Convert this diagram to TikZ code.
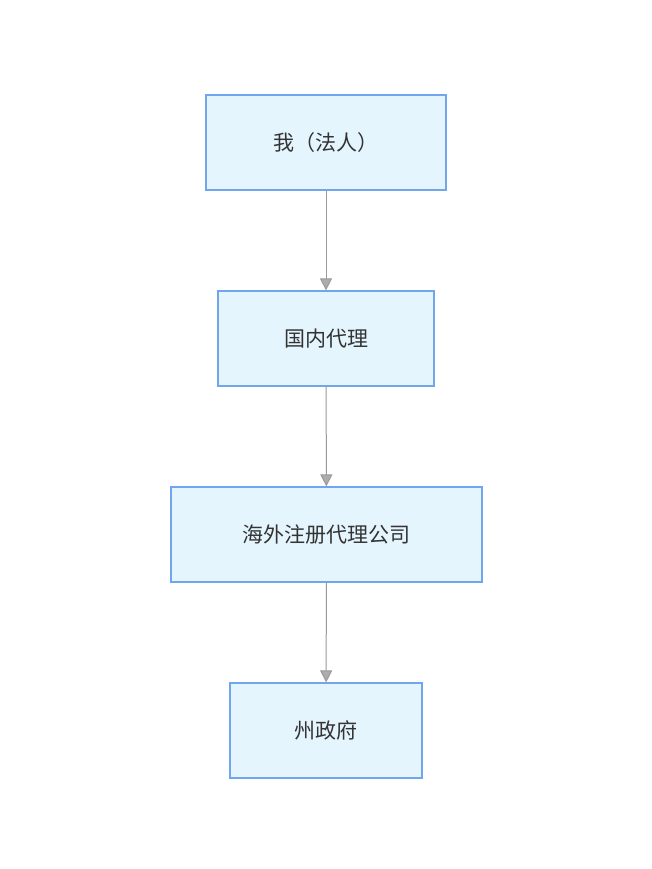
\documentclass[tikz,border=0pt]{standalone}
\usepackage{fontspec}
\newfontfamily\cjk{Noto Sans CJK SC}
\usetikzlibrary{arrows.meta}
\definecolor{boxfill}{HTML}{E5F5FD}
\definecolor{boxline}{HTML}{6FA6EE}
\definecolor{arr}{HTML}{999999}
\definecolor{txt}{HTML}{333333}
\tikzset{
  box/.style={draw=boxline, fill=boxfill, line width=1.2pt, text=txt, font=\cjk\fontsize{21}{24}\selectfont, inner sep=0pt},
  conn/.style={draw=arr, line width=1pt, -{Triangle[length=12pt,width=12pt,fill=arr!80]}}
}
\begin{document}
\begin{tikzpicture}[x=1pt,y=-1pt]
\useasboundingbox (0,0) rectangle (652,869);
\node[box, minimum width=240pt, minimum height=95pt] (a) at (326,142.5) {我（法人）};
\node[box, minimum width=216pt, minimum height=95pt] (b) at (326,338.5) {国内代理};
\node[box, minimum width=311pt, minimum height=95pt] (c) at (326.5,534.5) {海外注册代理公司};
\node[box, minimum width=192pt, minimum height=95pt] (d) at (326,730.5) {州政府};
\draw[conn] (a) -- (b);
\draw[conn] (b) -- (c);
\draw[conn] (c) -- (d);
\end{tikzpicture}
\end{document}
